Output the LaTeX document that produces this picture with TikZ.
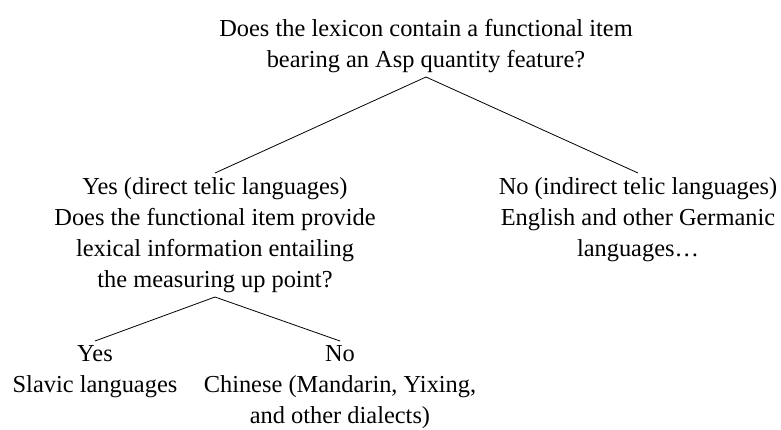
\documentclass[tikz,border=0pt]{standalone}
\usepackage{fontspec}
\setmainfont{Liberation Serif}

\begin{document}
\begin{tikzpicture}[x=0.5pt, y=-0.5pt,
    pregunta/.style={align=center, inner sep=2pt, font=\fontsize{12.2}{15.5}\selectfont},
    rama/.style={black, thin}]
    \useasboundingbox (0,0) rectangle (781,429);

    % Nodos
    % Raiz
    \node[pregunta, anchor=south] (raiz) at (426,77)
        {Does the lexicon contain a functional item\\bearing an Asp quantity feature?};
    % Primer nivel
    \node[pregunta, anchor=north] (si) at (215,173)
        {Yes (direct telic languages)\\Does the functional item provide\\lexical information entailing\\the measuring up point?};
    \node[pregunta, anchor=north] (no) at (638,173)
        {No (indirect telic languages)\\English and other Germanic\\languages\ldots};
    % Segundo nivel
    \node[pregunta, anchor=north] (eslavo) at (95,341)
        {Yes\\Slavic languages};
    \node[pregunta, anchor=north] (chino) at (340,341)
        {No\\Chinese (Mandarin, Yixing,\\and other dialects)};

    % Ramas
    \draw[rama] (raiz.south) -- (si.north);
    \draw[rama] (raiz.south) -- (no.north);
    \draw[rama] (si.south) -- (eslavo.north);
    \draw[rama] (si.south) -- (chino.north);
\end{tikzpicture}
\end{document}
